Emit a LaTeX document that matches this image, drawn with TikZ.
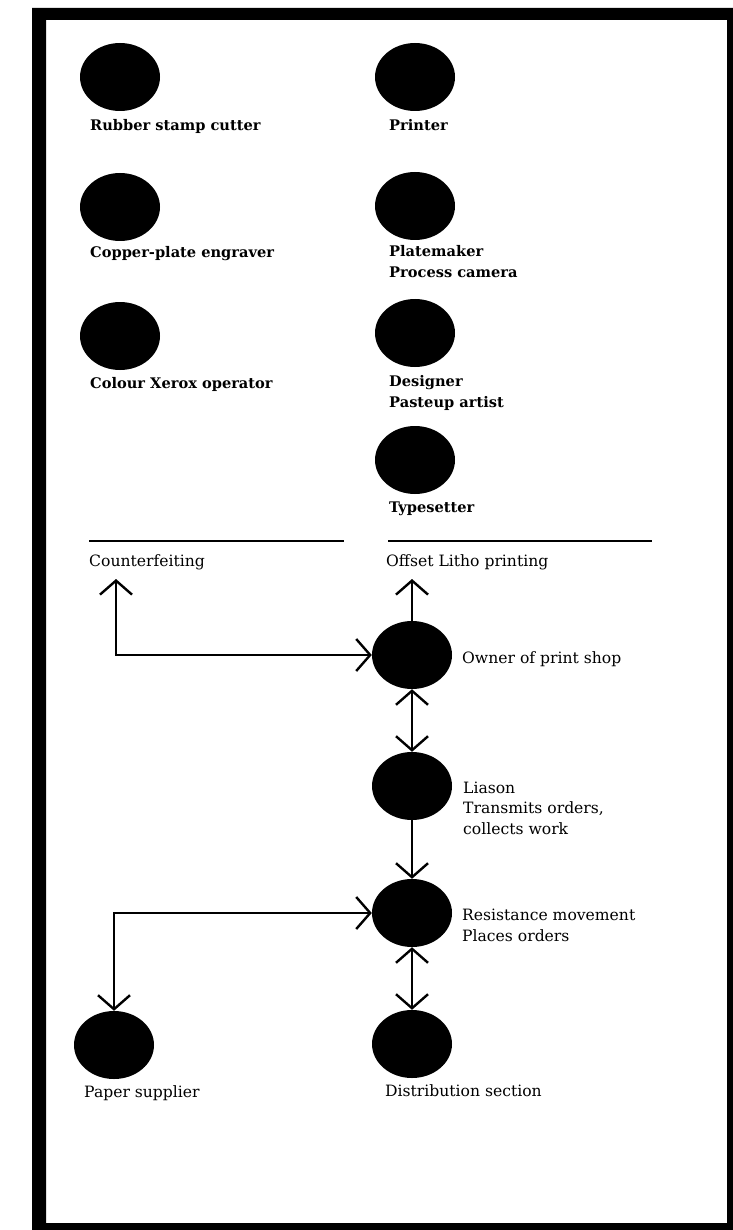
\documentclass[tikz,border=0pt]{standalone}
\usepackage{fontspec}
\setmainfont{DejaVu Serif}
\usetikzlibrary{arrows.meta,shapes.geometric}
\begin{document}
\begin{tikzpicture}[x=1pt,y=-1pt,
  blob/.style={ellipse,fill=black,draw=none,minimum width=80pt,minimum height=68pt,inner sep=0pt},
  toplbl/.style={font=\fontsize{14.6}{21}\selectfont\bfseries,anchor=base west,align=left,inner sep=0pt},
  lbl/.style={font=\fontsize{15.6}{20.5}\selectfont,anchor=base west,align=left,inner sep=0pt},
  conn/.style={line width=2.4pt,>={Straight Barb[length=14pt,width=32pt]}},
  rule/.style={line width=2.5pt}]
\useasboundingbox (0,0) rectangle (732,1230);
% frame
\fill[black,even odd rule] (32,8) rectangle (734,1232) (46,20) rectangle (727,1223);
% skills (base anchor = baseline of the last line)
\node[blob] (rubber) at (120,77) {};
\node[toplbl] (rubberl) at (90,131) {Rubber stamp cutter};
\node[blob] (copper) at (120,207) {};
\node[toplbl] (copperl) at (90,258) {Copper-plate engraver};
\node[blob] (xerox) at (120,336) {};
\node[toplbl] (xeroxl) at (90,388) {Colour Xerox operator};
\node[blob] (printer) at (415,77) {};
\node[toplbl] (printerl) at (389,131) {Printer};
\node[blob] (plate) at (415,206) {};
\node[toplbl] (platel) at (389,278) {Platemaker\\Process camera};
\node[blob] (designer) at (415,333) {};
\node[toplbl] (designerl) at (389,407) {Designer\\Pasteup artist};
\node[blob] (typeset) at (415,460) {};
\node[toplbl] (typesetl) at (389,512) {Typesetter};
% rules
\coordinate (r1a) at (89,541); \coordinate (r1b) at (344,541);
\coordinate (r2a) at (388,541); \coordinate (r2b) at (652,541);
\draw[rule] (r1a) -- (r1b);
\draw[rule] (r2a) -- (r2b);
\node[lbl] (counterl) at (89,566) {Counterfeiting};
\node[lbl] (offsetl) at (386,566) {Offset Litho printing};
% organisation
\node[blob] (owner) at (412,655) {};
\node[lbl] (ownerl) at (462,663) {Owner of print shop};
\node[blob] (liason) at (412,786) {};
\node[lbl] (liasonl) at (463,834) {Liason\\Transmits orders,\\collects work};
\node[blob] (resist) at (412,913) {};
\node[lbl] (resistl) at (462,941) {Resistance movement\\Places orders};
\node[blob] (distr) at (412,1044) {};
\node[lbl] (distrl) at (385,1096) {Distribution section};
\node[blob] (paper) at (114,1045) {};
\node[lbl] (paperl) at (84,1097) {Paper supplier};
% connectors
\coordinate (cf) at (116,579);
\coordinate (off) at (412,579);
\draw[conn,<->] (cf) |- (owner.west);
\draw[conn,->] (owner.north) -- (off);
\draw[conn,<->] (owner.south) -- (liason.north);
\draw[conn,->] (liason.south) -- (resist.north);
\draw[conn,<->] (paper.north) |- (resist.west);
\draw[conn,<->] (resist.south) -- (distr.north);
\end{tikzpicture}
\end{document}
